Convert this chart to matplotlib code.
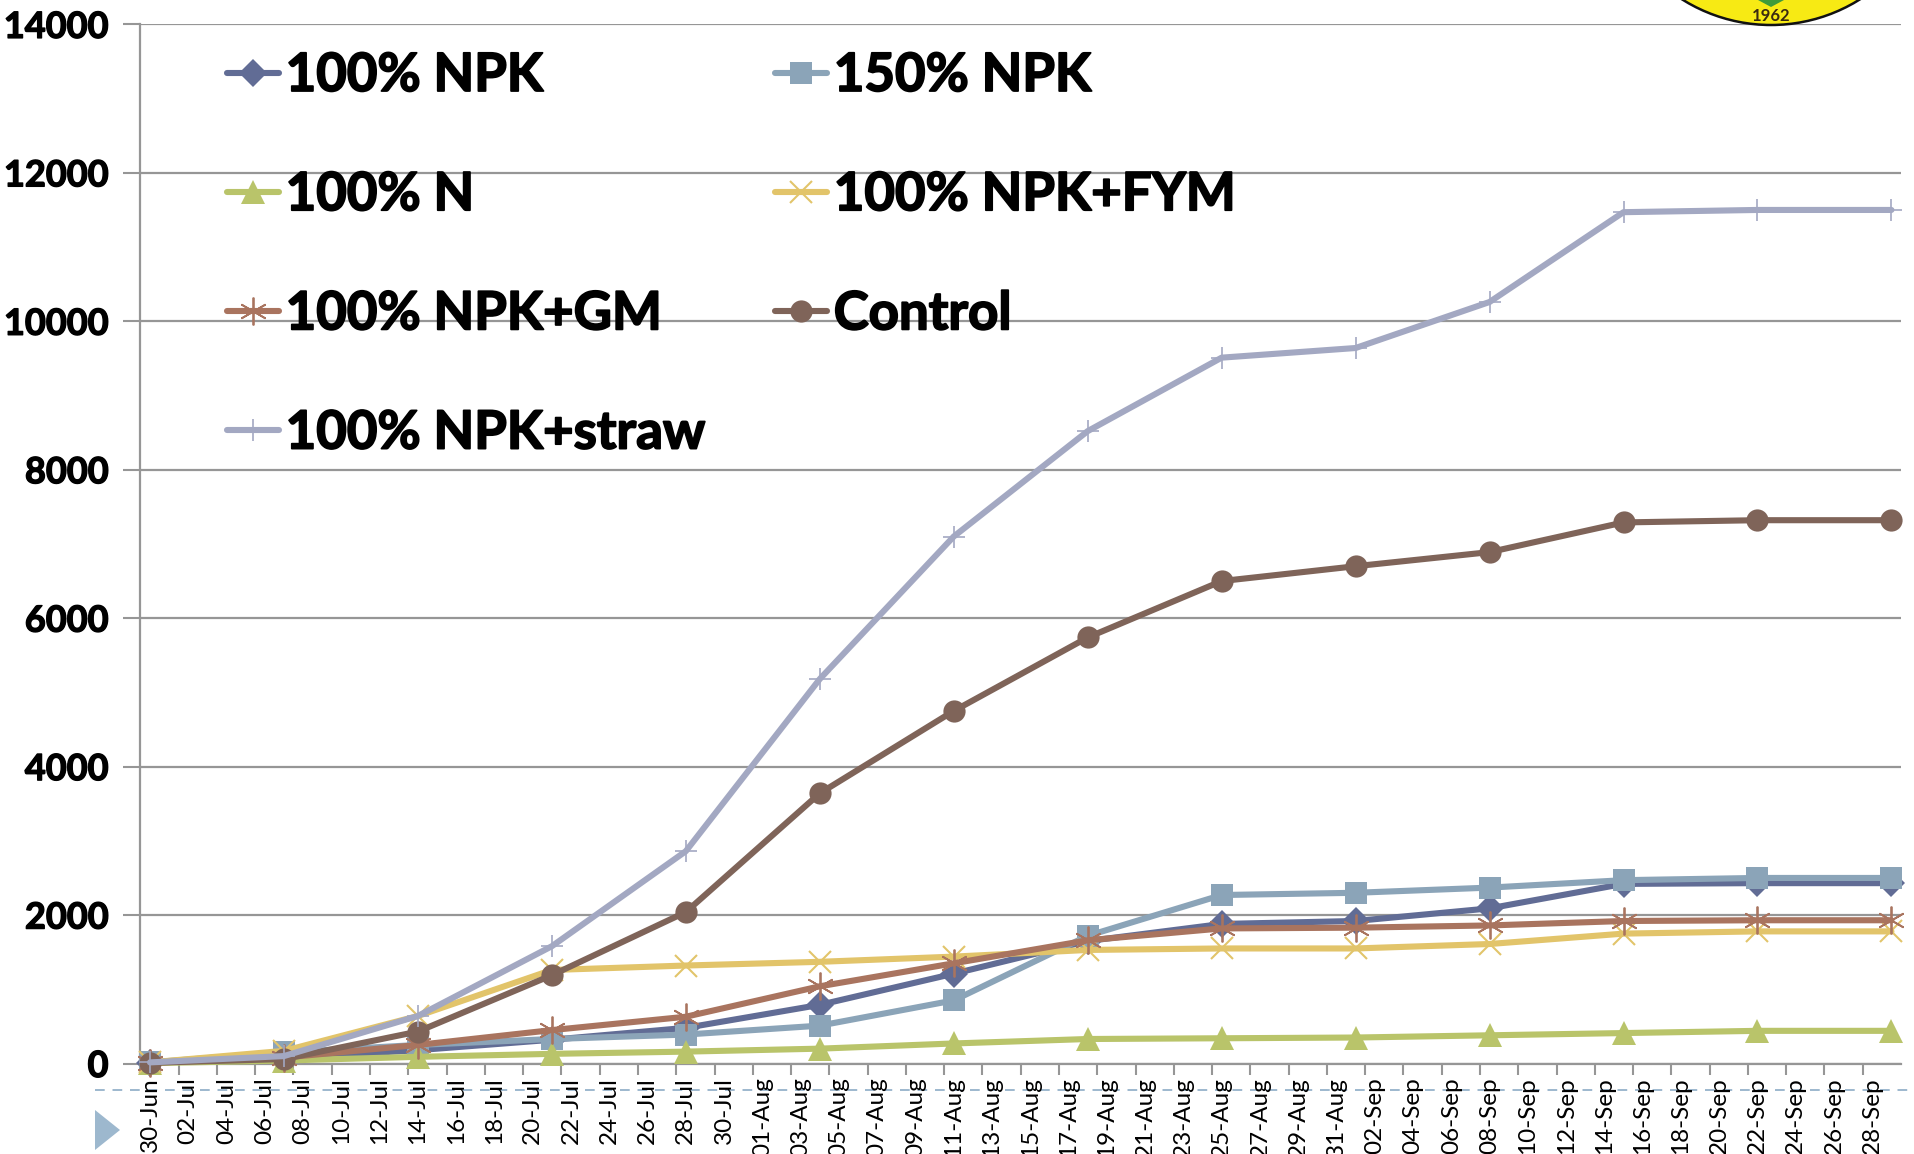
import numpy as np
import pandas as pd
import matplotlib
matplotlib.use("Agg")
import matplotlib.pyplot as plt
import matplotlib.dates as mdates
import matplotlib.patheffects as pe
from matplotlib.patches import Ellipse, Polygon

W, H = 1915, 1154

sample_dates = ["2013-06-30", "2013-07-07", "2013-07-14", "2013-07-21", "2013-07-28", "2013-08-04", "2013-08-11",
                "2013-08-18", "2013-08-25", "2013-09-01", "2013-09-08", "2013-09-15", "2013-09-22", "2013-09-29"]
npk100 = [10, 70, 180, 320, 480, 790, 1210, 1650, 1880, 1920, 2090, 2420, 2430, 2430]
npk150 = [15, 150, 250, 330, 390, 510, 850, 1720, 2270, 2300, 2370, 2470, 2500, 2500]
n100 = [5, 40, 90, 130, 160, 200, 270, 330, 340, 350, 380, 410, 440, 440]
fym = [15, 170, 640, 1260, 1320, 1370, 1440, 1530, 1550, 1550, 1610, 1750, 1780, 1780]
gm = [10, 80, 250, 450, 630, 1040, 1350, 1660, 1820, 1830, 1860, 1920, 1930, 1930]
control = [10, 60, 430, 1190, 2040, 3640, 4750, 5740, 6500, 6700, 6890, 7290, 7320, 7320]
straw = [15, 100, 640, 1580, 2860, 5180, 7100, 8520, 9510, 9640, 10260, 11470, 11500, 11500]
y_ticks = [0, 2000, 4000, 6000, 8000, 10000, 12000, 14000]

plt.rcParams["font.family"] = ["Lato", "DejaVu Sans"]

fig = plt.figure(figsize=(W / 100, H / 100), dpi=100)
L, R, T, B = 140.4, 1901, 24.4, 1063.5
ax = fig.add_axes([L / W, 1 - B / H, (R - L) / W, (B - T) / H])

x = mdates.date2num(pd.to_datetime(sample_dates))
tick_dates = pd.date_range("2013-06-30", "2013-09-28", freq="2D")
tx = mdates.date2num(tick_dates)

series = [
    ("100% NPK", npk100, "#616C95", "D", 14, 0),
    ("150% NPK", npk150, "#8BA4B8", "s", 16, 0),
    ("100% N", n100, "#B9C46A", "^", 17, 0),
    ("100% NPK+FYM", fym, "#E2C46A", "x", 16, 1.5),
    ("100% NPK+GM", gm, "#A9745F", (6, 2, 0), 20, 1.3),
    ("Control", control, "#7F6459", "o", 16, 0),
    ("100% NPK+straw", straw, "#A3A8C2", "+", 16, 1.2),
]
handles = {}
for name, vals, col, mk, ms, mew in series:
    h, = ax.plot(x, vals, color=col, lw=4.4, marker=mk, ms=ms, mfc=col, mec=col,
                 mew=mew, clip_on=False, label=name, solid_joinstyle="round",
                 solid_capstyle="round", zorder=3)
    handles[name] = h

ax.set_xlim(x[0] - 0.5, x[-1] + 0.5)
ax.set_ylim(0, 14000)
ax.set_yticks(y_ticks)
ax.set_yticklabels([str(v) for v in y_ticks], fontsize=26, fontweight="bold")
for t in ax.get_yticklabels():
    t.set_path_effects([pe.withStroke(linewidth=1.0, foreground="black")])
ax.set_xticks(tx)
ax.set_xticklabels([d.strftime("%d-%b") for d in tick_dates], rotation=90, fontsize=17.5, ha="center", va="top")
ax.set_xticks(tx - 0.5, minor=True)
ax.tick_params(axis="x", which="major", length=0, pad=10)
ax.tick_params(axis="x", which="minor", length=8, width=1.5, color="#969696")
ax.tick_params(axis="y", length=12, width=1.5, color="#969696", pad=11)
ax.grid(axis="y", color="#969696", lw=1.6, zorder=1)
ax.set_axisbelow(True)
for s in ["top", "right"]:
    ax.spines[s].set_visible(False)
for s in ["left", "bottom"]:
    ax.spines[s].set_color("#969696")
    ax.spines[s].set_linewidth(1.6)

order = ["100% NPK", "100% N", "100% NPK+GM", "100% NPK+straw", "150% NPK", "100% NPK+FYM", "Control"]
leg = ax.legend([handles[n] for n in order], order, ncol=2, frameon=False,
                loc="upper left", bbox_to_anchor=((226.5 - L) / (R - L), 1 - (51 - T) / (B - T)),
                borderaxespad=0, borderpad=0,
                prop={"family": "Lato", "weight": "bold", "size": 38},
                handlelength=1.0, handletextpad=0.12, columnspacing=1.31, labelspacing=1.33)
for t in leg.get_texts():
    t.set_path_effects([pe.withStroke(linewidth=1.3, foreground="black")])
leg.set_zorder(5)


def fx(px):
    return px / W


def fy(py):
    return 1 - py / H


# Dashed footer rule and slide arrow
fig.add_artist(plt.Line2D([fx(95), fx(1915)], [fy(1090), fy(1090)], color="#9DB8CE", lw=1.4, ls=(0, (5, 4)), zorder=-1))
fig.add_artist(Polygon([(fx(95), fy(1110)), (fx(120), fy(1130)), (fx(95), fy(1150))], closed=True,
                       transform=fig.transFigure, fc="#9DB8CE", ec="none"))

# Logo fragment at top right
fig.add_artist(Ellipse((fx(1771), fy(-142)), 2 * 167 / W, 2 * 167 / H, transform=fig.transFigure,
                       fc="#F7EA14", ec="#111111", lw=1.8))
fig.add_artist(Polygon([(fx(1758), fy(0)), (fx(1784), fy(0)), (fx(1771), fy(7))], closed=True,
                       transform=fig.transFigure, fc="#3E9B3A", ec="none"))
fig.text(fx(1771), fy(16), "1962", fontsize=12, fontweight="bold", color="#3A2A10", ha="center", va="center")

fig.savefig("out.png", dpi=100)
